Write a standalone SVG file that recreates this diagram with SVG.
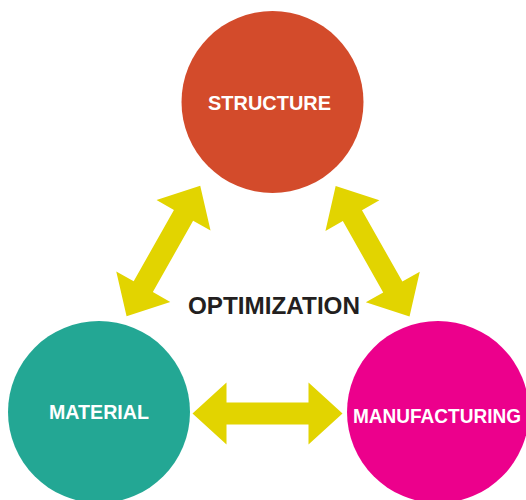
<svg xmlns="http://www.w3.org/2000/svg" xmlns:xlink="http://www.w3.org/1999/xlink" width="526" height="500" viewBox="0 0 526 500">
  <style>
    .lbl { font-family: "Liberation Sans", Arial, Helvetica, sans-serif; font-weight: bold; fill: #ffffff; text-anchor: middle; font-size: 20px; }
    .center { font-family: "Liberation Sans", Arial, Helvetica, sans-serif; font-weight: bold; fill: #231f20; text-anchor: middle; font-size: 24px; }
    .arrow { fill: #E2D400; }
  </style>
  <defs>
    <path id="dblarrow" d="M-75,0 L-41,-31 L-41,-11 L41,-11 L41,-31 L75,0 L41,31 L41,11 L-41,11 L-41,31 Z"/>
  </defs>
  <rect width="526" height="500" fill="#ffffff"/>
  <g id="connectors" class="arrow">
    <use xlink:href="#dblarrow" href="#dblarrow" transform="translate(163.4,251) rotate(-60.6)"/>
    <use xlink:href="#dblarrow" href="#dblarrow" transform="translate(372.6,251.3) rotate(60.5)"/>
    <use xlink:href="#dblarrow" href="#dblarrow" transform="translate(267.5,413.5)"/>
  </g>
  <g id="structure">
    <circle cx="272.5" cy="102" r="91" fill="#D34B2B"/>
    <text class="lbl" x="269.5" y="110" textLength="123" lengthAdjust="spacingAndGlyphs">STRUCTURE</text>
  </g>
  <g id="material">
    <circle cx="99" cy="412" r="91" fill="#23A794"/>
    <text class="lbl" x="99" y="419" textLength="100" lengthAdjust="spacingAndGlyphs">MATERIAL</text>
  </g>
  <g id="manufacturing">
    <circle cx="438" cy="412" r="91" fill="#EC008C"/>
    <text class="lbl" x="437" y="422.5" textLength="168" lengthAdjust="spacingAndGlyphs">MANUFACTURING</text>
  </g>
  <g id="optimization">
    <text class="center" x="274" y="314" textLength="172" lengthAdjust="spacingAndGlyphs">OPTIMIZATION</text>
  </g>
</svg>
